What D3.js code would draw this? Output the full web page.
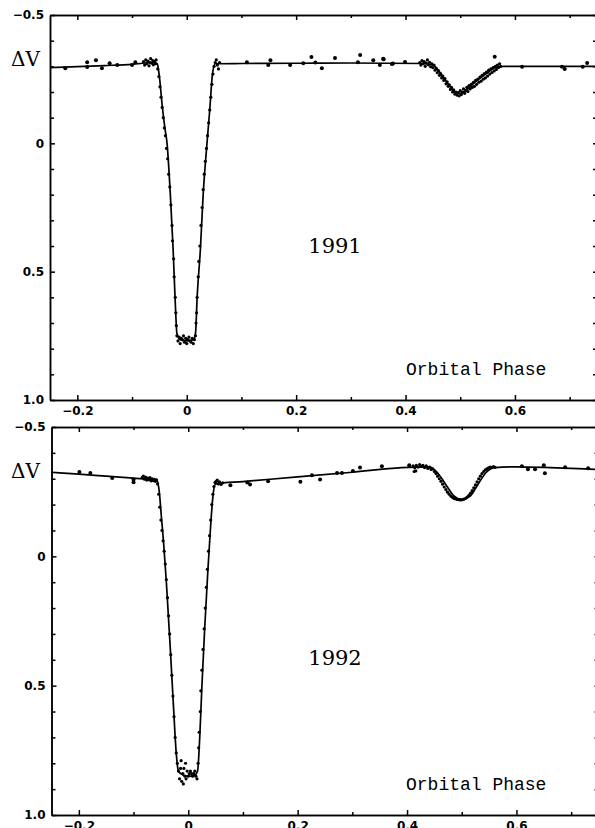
<!DOCTYPE html>
<html lang="en">
  <head>
    <meta charset="utf-8" />
    <title>Light curves 1991 / 1992</title>
    <script src="https://d3js.org/d3.v7.min.js"></script>
    <style>
      body {
        margin: 0;
        background: white;
      }
      .tick text {
        font-family: "DejaVu Sans", sans-serif;
        font-weight: bold;
        font-size: 12px;
        fill: black;
      }
      .axis path,
      .axis line {
        stroke: black;
        stroke-width: 1.5;
      }
      .year {
        font-family: "DejaVu Serif", serif;
        font-size: 21px;
      }
      .ylab {
        font-family: "DejaVu Serif", serif;
        font-size: 20px;
      }
      .xlab {
        font-family: "Liberation Mono", monospace;
        font-size: 18px;
      }
    </style>
  </head>
  <body>
    <svg width="595" height="828"></svg>
    <script type="text/javascript">
      // tick values and labels
      const xMajor = [-0.2, 0, 0.2, 0.4, 0.6];
      const xMajorLabels = ["\u22120.2", "0", "0.2", "0.4", "0.6"];
      const xMinor = [-0.1, 0.1, 0.3, 0.5, 0.7];
      const yMajor = [-0.5, 0, 0.5, 1.0];
      const yMajorLabels = ["\u22120.5", "0", "0.5", "1.0"];
      const yMinor = [-0.4, -0.3, -0.2, -0.1, 0.1, 0.2, 0.3, 0.4, 0.6, 0.7, 0.8, 0.9];

      // 1991: fitted light curve [phase, dV]
      const fit1991 = [
        [-0.25, -0.295], [-0.15, -0.303], [-0.1, -0.308], [-0.06, -0.315],
        [-0.054, -0.31], [-0.05, -0.26], [-0.045, -0.15], [-0.04, -0.06],
        [-0.036, 0.0], [-0.03, 0.2], [-0.025, 0.41], [-0.021, 0.62],
        [-0.018, 0.74], [-0.012, 0.765], [0, 0.77], [0.012, 0.765],
        [0.016, 0.74], [0.019, 0.6], [0.025, 0.41], [0.03, 0.2],
        [0.037, 0.0], [0.042, -0.13], [0.047, -0.27], [0.052, -0.31],
        [0.1, -0.311], [0.2, -0.312], [0.3, -0.313], [0.43, -0.311],
        [0.45, -0.305], [0.46, -0.285], [0.47, -0.255], [0.48, -0.225],
        [0.49, -0.2], [0.5, -0.195], [0.51, -0.205], [0.52, -0.225],
        [0.535, -0.252], [0.55, -0.275], [0.565, -0.297], [0.58, -0.3],
        [0.65, -0.3], [0.75, -0.3],
      ];
      // 1991: individual observations
      const sparse1991 = [
        [-0.222, -0.293], [-0.182, -0.316], [-0.182, -0.297], [-0.166, -0.324],
        [-0.155, -0.293], [-0.141, -0.312], [-0.127, -0.305], [-0.1, -0.305],
        [-0.094, -0.316], [0.11, -0.316], [0.153, -0.324], [0.149, -0.305],
        [0.189, -0.305], [0.213, -0.312], [0.228, -0.336], [0.235, -0.315],
        [0.247, -0.293], [0.271, -0.332], [0.317, -0.344], [0.313, -0.316],
        [0.341, -0.324], [0.353, -0.305], [0.36, -0.328], [0.375, -0.309],
        [0.359, -0.33], [0.377, -0.311], [0.399, -0.317], [0.563, -0.337],
        [0.613, -0.298], [0.686, -0.298], [0.691, -0.29], [0.724, -0.298],
        [0.732, -0.313],
      ];
      const dense1991 = [
        [-0.079, -0.318], [-0.077, -0.305], [-0.075, -0.325], [-0.073, -0.31],
        [-0.071, -0.32], [-0.069, -0.302], [-0.067, -0.315], [-0.066, -0.33],
        [-0.064, -0.312], [-0.062, -0.322], [-0.061, -0.306], [-0.059, -0.318],
        [-0.057, -0.31], [-0.056, -0.325],
        [-0.053, -0.29], [-0.051, -0.26], [-0.049, -0.22], [-0.047, -0.18],
        [-0.045, -0.14], [-0.043, -0.1], [-0.041, -0.06], [-0.039, -0.03],
        [-0.037, 0.02], [-0.035, 0.06], [-0.033, 0.12], [-0.031, 0.17],
        [-0.029, 0.24], [-0.027, 0.32], [-0.026, 0.38], [-0.024, 0.45],
        [-0.023, 0.52], [-0.021, 0.6], [-0.02, 0.66], [-0.019, 0.71],
        [-0.018, 0.75], [-0.016, 0.77], [-0.014, 0.755], [-0.012, 0.78],
        [-0.01, 0.76], [-0.008, 0.765], [-0.006, 0.75], [-0.004, 0.775],
        [-0.002, 0.76], [0, 0.78], [0.002, 0.765], [0.004, 0.755],
        [0.006, 0.77], [0.008, 0.775], [0.01, 0.76], [0.012, 0.78],
        [0.014, 0.765], [0.016, 0.75],
        [0.017, 0.7], [0.018, 0.66], [0.019, 0.6], [0.021, 0.52],
        [0.022, 0.46], [0.024, 0.4], [0.026, 0.32], [0.028, 0.25],
        [0.03, 0.18], [0.032, 0.12], [0.034, 0.07], [0.036, 0.02],
        [0.038, -0.03], [0.04, -0.08], [0.042, -0.13], [0.044, -0.18],
        [0.046, -0.23], [0.048, -0.27], [0.05, -0.3], [0.052, -0.315],
        [0.054, -0.325], [0.056, -0.305], [0.058, -0.29], [0.06, -0.315],
        [0.426, -0.315], [0.428, -0.305], [0.43, -0.322], [0.432, -0.31],
        [0.434, -0.318], [0.436, -0.3], [0.438, -0.313], [0.44, -0.325],
        [0.442, -0.306], [0.444, -0.316], [0.446, -0.298], [0.448, -0.31],
        [0.45, -0.295], [0.452, -0.305], [0.454, -0.285], [0.456, -0.292],
        [0.458, -0.275], [0.46, -0.283], [0.462, -0.265], [0.464, -0.272],
        [0.466, -0.255], [0.468, -0.262], [0.47, -0.245], [0.472, -0.252],
        [0.474, -0.232], [0.476, -0.24], [0.478, -0.222], [0.48, -0.228],
        [0.482, -0.21], [0.484, -0.218], [0.486, -0.2], [0.488, -0.208],
        [0.49, -0.192], [0.492, -0.2], [0.494, -0.188], [0.496, -0.198],
        [0.498, -0.185], [0.5, -0.205], [0.502, -0.19], [0.504, -0.2],
        [0.506, -0.212], [0.508, -0.195],
        [0.51, -0.205], [0.512, -0.218], [0.514, -0.202], [0.516, -0.225],
        [0.518, -0.212], [0.52, -0.23], [0.522, -0.218], [0.524, -0.238],
        [0.526, -0.222], [0.528, -0.245], [0.53, -0.23], [0.532, -0.25],
        [0.534, -0.238], [0.536, -0.258], [0.538, -0.242], [0.54, -0.265],
        [0.542, -0.25], [0.544, -0.272], [0.546, -0.255], [0.548, -0.278],
        [0.55, -0.262], [0.552, -0.285], [0.554, -0.27], [0.556, -0.29],
        [0.558, -0.276], [0.56, -0.295], [0.562, -0.282], [0.564, -0.3],
        [0.566, -0.288], [0.568, -0.305], [0.57, -0.295], [0.572, -0.31],
        [0.574, -0.3],
      ];

      // 1992: fitted light curve [phase, dV]
      const fit1992 = [
        [-0.25, -0.325], [-0.2, -0.318], [-0.15, -0.31], [-0.1, -0.302],
        [-0.065, -0.296], [-0.057, -0.292], [-0.053, -0.25], [-0.049, -0.15],
        [-0.045, -0.05], [-0.04, 0.1], [-0.033, 0.35], [-0.027, 0.58],
        [-0.022, 0.76], [-0.018, 0.83], [-0.01, 0.845], [0, 0.85],
        [0.01, 0.85], [0.017, 0.83], [0.021, 0.7], [0.025, 0.5],
        [0.03, 0.28], [0.036, 0.05], [0.041, -0.12], [0.045, -0.23],
        [0.05, -0.28], [0.1, -0.289], [0.2, -0.307], [0.3, -0.325],
        [0.39, -0.343], [0.44, -0.346], [0.455, -0.325], [0.47, -0.28],
        [0.485, -0.235], [0.5, -0.22], [0.515, -0.232], [0.53, -0.28],
        [0.545, -0.325], [0.56, -0.343], [0.6, -0.346], [0.65, -0.344],
        [0.7, -0.34], [0.75, -0.336],
      ];
      const sparse1992 = [
        [-0.199, -0.326], [-0.179, -0.322], [-0.139, -0.303], [-0.1, -0.297],
        [-0.1, -0.286], [0.077, -0.275], [0.108, -0.285], [0.113, -0.278],
        [0.146, -0.29], [0.205, -0.288], [0.226, -0.313], [0.241, -0.297],
        [0.272, -0.322], [0.281, -0.322], [0.301, -0.33], [0.314, -0.343],
        [0.354, -0.348], [0.404, -0.352], [0.61, -0.348], [0.621, -0.337],
        [0.634, -0.337], [0.65, -0.352], [0.652, -0.321], [0.689, -0.344],
        [0.731, -0.341],
      ];
      const dense1992 = [
        [-0.084, -0.305], [-0.082, -0.31], [-0.08, -0.298], [-0.078, -0.306],
        [-0.076, -0.295], [-0.074, -0.302], [-0.072, -0.296], [-0.07, -0.304],
        [-0.068, -0.292], [-0.066, -0.3], [-0.064, -0.293], [-0.062, -0.298],
        [-0.06, -0.29], [-0.058, -0.296],
        [-0.056, -0.28], [-0.054, -0.24], [-0.052, -0.19], [-0.05, -0.14],
        [-0.048, -0.1], [-0.046, -0.06], [-0.044, -0.02], [-0.042, 0.03],
        [-0.04, 0.09], [-0.038, 0.16], [-0.036, 0.23], [-0.034, 0.3],
        [-0.032, 0.38], [-0.03, 0.46], [-0.028, 0.54], [-0.026, 0.62],
        [-0.024, 0.7], [-0.022, 0.76], [-0.02, 0.8],
        [-0.018, 0.83], [-0.016, 0.86], [-0.014, 0.82], [-0.013, 0.79],
        [-0.012, 0.87], [-0.01, 0.84], [-0.009, 0.88], [-0.008, 0.82],
        [-0.006, 0.85], [-0.005, 0.8], [-0.004, 0.86], [-0.002, 0.83],
        [0, 0.85], [0.002, 0.84], [0.004, 0.83], [0.006, 0.84],
        [0.008, 0.85], [0.01, 0.84], [0.012, 0.83], [0.014, 0.85],
        [0.016, 0.86],
        [0.018, 0.8], [0.019, 0.74], [0.02, 0.68], [0.022, 0.6],
        [0.023, 0.52], [0.025, 0.44], [0.027, 0.36], [0.029, 0.28],
        [0.031, 0.2], [0.033, 0.12], [0.035, 0.05], [0.037, -0.02],
        [0.039, -0.08], [0.041, -0.14], [0.043, -0.2], [0.045, -0.24],
        [0.047, -0.27], [0.049, -0.285], [0.051, -0.29], [0.053, -0.295],
        [0.055, -0.28], [0.057, -0.288], [0.06, -0.278], [0.063, -0.284],
        [0.411, -0.35], [0.413, -0.328], [0.414, -0.342], [0.416, -0.33],
        [0.417, -0.352], [0.42, -0.345], [0.423, -0.355], [0.426, -0.348],
        [0.429, -0.352], [0.432, -0.343], [0.435, -0.35], [0.438, -0.34],
        [0.441, -0.345], [0.444, -0.336], [0.447, -0.338], [0.45, -0.328],
        [0.453, -0.32], [0.456, -0.31], [0.459, -0.3], [0.462, -0.29],
        [0.465, -0.279], [0.468, -0.268], [0.471, -0.258], [0.474, -0.248],
        [0.477, -0.24], [0.48, -0.233], [0.483, -0.228], [0.486, -0.224],
        [0.489, -0.222], [0.492, -0.22], [0.495, -0.219], [0.498, -0.218],
        [0.501, -0.219], [0.504, -0.221], [0.507, -0.224], [0.51, -0.229],
        [0.513, -0.236], [0.516, -0.244], [0.519, -0.254], [0.522, -0.265],
        [0.525, -0.276], [0.528, -0.288], [0.531, -0.3], [0.534, -0.31],
        [0.537, -0.32], [0.54, -0.328], [0.543, -0.334], [0.546, -0.338],
        [0.549, -0.342], [0.552, -0.345], [0.555, -0.343], [0.558, -0.347],
        [0.561, -0.344],
      ];

      const panels = [
        { year: "1991", fit: fit1991, sparse: sparse1991, dense: dense1991,
          left: 50, right: 597, top: 15, bottom: 400 },
        { year: "1992", fit: fit1992, sparse: sparse1992, dense: dense1992,
          left: 51.5, right: 598.5, top: 427, bottom: 815 },
      ];

      const svg = d3.select("svg");

      panels.forEach((p) => {
        const x = d3.scaleLinear().domain([-0.25, 0.75]).range([p.left, p.right]);
        const y = d3.scaleLinear().domain([-0.5, 1.0]).range([p.top, p.bottom]);
        const g = svg.append("g");

        // frame + ticks, all pointing inwards
        g.append("g")
          .attr("class", "axis")
          .attr("transform", `translate(0,${p.bottom})`)
          .call(
            d3.axisBottom(x).tickValues(xMajor).tickSize(-5).tickSizeOuter(0)
              .tickPadding(6)
              .tickFormat((d, i) => xMajorLabels[i])
          );
        g.append("g")
          .attr("class", "axis")
          .attr("transform", `translate(0,${p.bottom})`)
          .call(d3.axisBottom(x).tickValues(xMinor).tickSize(-3).tickSizeOuter(0).tickFormat(""));
        g.append("g")
          .attr("class", "axis")
          .attr("transform", `translate(0,${p.top})`)
          .call(d3.axisTop(x).tickValues(xMajor).tickSize(-5).tickSizeOuter(0).tickFormat(""));
        g.append("g")
          .attr("class", "axis")
          .attr("transform", `translate(0,${p.top})`)
          .call(d3.axisTop(x).tickValues(xMinor).tickSize(-3).tickSizeOuter(0).tickFormat(""));

        g.append("g")
          .attr("class", "axis")
          .attr("transform", `translate(${p.left},0)`)
          .call(
            d3.axisLeft(y).tickValues(yMajor).tickSize(-5).tickSizeOuter(0)
              .tickPadding(6)
              .tickFormat((d, i) => yMajorLabels[i])
          );
        g.append("g")
          .attr("class", "axis")
          .attr("transform", `translate(${p.left},0)`)
          .call(d3.axisLeft(y).tickValues(yMinor).tickSize(-4).tickSizeOuter(0).tickFormat(""));
        g.append("g")
          .attr("class", "axis")
          .attr("transform", `translate(${p.right},0)`)
          .call(d3.axisRight(y).tickValues(yMajor.concat(yMinor)).tickSize(-4).tickSizeOuter(0).tickFormat(""));

        // model curve
        const line = d3
          .line()
          .x((d) => x(d[0]))
          .y((d) => y(d[1]))
          .curve(d3.curveMonotoneX);
        g.append("path")
          .datum(p.fit)
          .attr("d", line)
          .attr("fill", "none")
          .attr("stroke", "black")
          .attr("stroke-width", 1.7);

        // observations
        g.append("g")
          .selectAll("circle")
          .data(p.dense)
          .join("circle")
          .attr("cx", (d) => x(d[0]))
          .attr("cy", (d) => y(d[1]))
          .attr("r", 1.6)
          .attr("fill", "black");
        g.append("g")
          .selectAll("circle")
          .data(p.sparse)
          .join("circle")
          .attr("cx", (d) => x(d[0]))
          .attr("cy", (d) => y(d[1]))
          .attr("r", 2)
          .attr("fill", "black");

        // labels
        g.append("text")
          .attr("class", "ylab")
          .attr("x", 11)
          .attr("y", p.top + 51)
          .text("\u0394V");
        g.append("text")
          .attr("class", "year")
          .attr("x", 335)
          .attr("y", p.top + 238)
          .attr("text-anchor", "middle")
          .text(p.year);
        g.append("text")
          .attr("class", "xlab")
          .attr("x", 406)
          .attr("y", p.bottom - 25)
          .text("Orbital Phase");
      });
    </script>
  </body>
</html>
